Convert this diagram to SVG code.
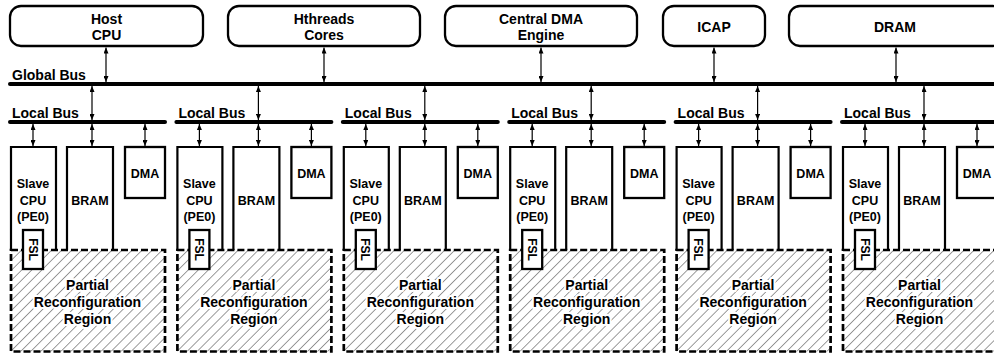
<svg xmlns="http://www.w3.org/2000/svg" width="994" height="354" viewBox="0 0 994 354">
<style>
.t{font-family:"Liberation Sans",Arial,sans-serif;font-weight:bold;fill:#000;text-anchor:middle}
.t14{font-size:14px}
.t12{font-size:12.5px}
.lbl{font-family:"Liberation Sans",Arial,sans-serif;font-weight:bold;font-size:14px;fill:#000}
.box{fill:#fff;stroke:#000;stroke-width:2.3}
.open{fill:none;stroke:#000;stroke-width:2.2}
.bus{stroke:#000;stroke-width:4;stroke-linecap:round}
.pr{fill:url(#hatch);stroke:#000;stroke-width:2.7;stroke-dasharray:7 3}
.halo{stroke:#fff;stroke-width:4;paint-order:stroke;stroke-linejoin:round}
.con line{stroke:#000;stroke-width:1.2;marker-start:url(#ah);marker-end:url(#ah)}
</style>
<defs>
<marker id="ah" viewBox="0 0 6 5" refX="6" refY="2.5" markerWidth="6" markerHeight="5" markerUnits="userSpaceOnUse" orient="auto-start-reverse">
<path d="M0,0 L6,2.5 L0,5 z" fill="#000"/>
</marker>
<pattern id="hatch" width="7.1" height="7.1" patternUnits="userSpaceOnUse" patternTransform="rotate(45)">
<rect width="7.1" height="7.1" fill="#fff"/>
<line x1="0" y1="0" x2="0" y2="7.1" stroke="#222" stroke-width="0.9"/>
</pattern>
<g id="cluster">
<rect class="pr" x="1" y="250" width="154" height="101.5"/>
<path class="open" d="M1,250 V147 H46 V250"/>
<path class="open" d="M57,250 V147 H103 V250"/>
<rect class="box" x="115" y="147" width="40" height="51"/>
<rect class="box" x="13" y="230" width="20" height="39"/>
<line class="bus" x1="0" y1="122" x2="155" y2="122"/>
<text class="lbl" x="2" y="118">Local Bus</text>
<text class="t t12" x="23" y="188">Slave</text>
<text class="t t12" x="23" y="205">CPU</text>
<text class="t t12" x="23" y="221">(PE0)</text>
<text class="t t12" x="80" y="205">BRAM</text>
<text class="t t12" x="135" y="178">DMA</text>
<text class="t" font-size="12" transform="translate(23,249.5) rotate(90)" y="4.3">FSL</text>
<text class="t t14 halo" x="77.5" y="289.5">Partial</text>
<text class="t t14 halo" x="77.5" y="306.5">Reconfiguration</text>
<text class="t t14 halo" x="77.5" y="323.5">Region</text>
</g>
</defs>

<g id="host"><rect class="box" x="10" y="6" width="193" height="40" rx="11"/><text class="t t14" x="106.5" y="24">Host</text><text class="t t14" x="106.5" y="40">CPU</text></g>
<g id="hthreads"><rect class="box" x="228" y="6" width="192" height="40" rx="11"/><text class="t t14" x="324" y="24">Hthreads</text><text class="t t14" x="324" y="40">Cores</text></g>
<g id="cdma"><rect class="box" x="445" y="6" width="192" height="40" rx="11"/><text class="t t14" x="541" y="24">Central DMA</text><text class="t t14" x="541" y="40">Engine</text></g>
<g id="icap"><rect class="box" x="663" y="6" width="102" height="40" rx="11"/><text class="t t14" x="714" y="32">ICAP</text></g>
<g id="dram"><rect class="box" x="789" y="6" width="215" height="40" rx="11"/><text class="t t14" x="895" y="32">DRAM</text></g>

<g id="globalbus"><line class="bus" x1="10" y1="84" x2="1000" y2="84"/><text class="lbl" x="12" y="80">Global Bus</text></g>

<g id="cluster0"><use href="#cluster" transform="translate(10,0)"/></g>
<g id="cluster1"><use href="#cluster" transform="translate(176.4,0)"/></g>
<g id="cluster2"><use href="#cluster" transform="translate(342.8,0)"/></g>
<g id="cluster3"><use href="#cluster" transform="translate(509.2,0)"/></g>
<g id="cluster4"><use href="#cluster" transform="translate(675.6,0)"/></g>
<g id="cluster5"><use href="#cluster" transform="translate(842,0)"/></g>

<g id="connectors" class="con">
<line x1="106" y1="47.5" x2="106" y2="82"/>
<line x1="324" y1="47.5" x2="324" y2="82"/>
<line x1="541" y1="47.5" x2="541" y2="82"/>
<line x1="714" y1="47.5" x2="714" y2="82"/>
<line x1="896" y1="47.5" x2="896" y2="82"/>
<line x1="92" y1="86" x2="92" y2="120"/>
<line x1="258.4" y1="86" x2="258.4" y2="120"/>
<line x1="424.8" y1="86" x2="424.8" y2="120"/>
<line x1="591.2" y1="86" x2="591.2" y2="120"/>
<line x1="757.6" y1="86" x2="757.6" y2="120"/>
<line x1="924" y1="86" x2="924" y2="120"/>
<line x1="33" y1="124" x2="33" y2="146"/>
<line x1="92" y1="124" x2="92" y2="146"/>
<line x1="145" y1="124" x2="145" y2="146"/>
<line x1="199.4" y1="124" x2="199.4" y2="146"/>
<line x1="258.4" y1="124" x2="258.4" y2="146"/>
<line x1="311.4" y1="124" x2="311.4" y2="146"/>
<line x1="365.8" y1="124" x2="365.8" y2="146"/>
<line x1="424.8" y1="124" x2="424.8" y2="146"/>
<line x1="477.8" y1="124" x2="477.8" y2="146"/>
<line x1="532.2" y1="124" x2="532.2" y2="146"/>
<line x1="591.2" y1="124" x2="591.2" y2="146"/>
<line x1="644.2" y1="124" x2="644.2" y2="146"/>
<line x1="698.6" y1="124" x2="698.6" y2="146"/>
<line x1="757.6" y1="124" x2="757.6" y2="146"/>
<line x1="810.6" y1="124" x2="810.6" y2="146"/>
<line x1="865" y1="124" x2="865" y2="146"/>
<line x1="924" y1="124" x2="924" y2="146"/>
<line x1="977" y1="124" x2="977" y2="146"/>
</g>
</svg>
